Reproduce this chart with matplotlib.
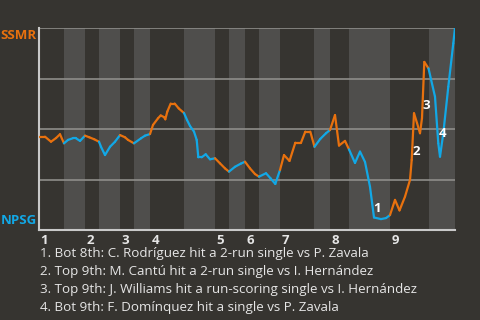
import matplotlib
matplotlib.use("Agg")
import matplotlib.pyplot as plt

# ---- data ----
# game progress (arbitrary units along the x axis) and SSMR win probability (%)
progress = [0, 6, 12, 17, 21, 25, 29, 33.7, 37, 41, 46, 50.3, 55.3, 60, 62, 66, 71, 76, 81,
            86, 89, 95, 102, 106, 111, 114, 119, 121.7, 125, 126.3, 128.3, 131.7, 135.7,
            139.7, 145, 148, 151, 155, 157.7, 159.3, 162.7, 166.7, 171, 176, 181, 186, 190,
            196, 202, 206, 211, 216, 220, 227, 231.5, 236.3, 241, 245, 250.5, 256.3, 262,
            266.3, 271.3, 275.5, 281.3, 287, 291, 296, 300, 306, 310, 316, 321, 326, 331,
            335, 342, 347, 351, 356, 360.5, 366, 371, 372.7, 375, 378, 381, 383, 385.3,
            389.5, 396, 399.3, 401, 404.3, 409.3, 414.3, 416]
ssmr_wp = [46.2, 46.2, 43.7, 45.5, 47.4, 42.9, 44.6, 45.4, 45.4, 44.1, 46.7, 45.9, 44.9, 43.7,
           41.2, 37.1, 41.2, 43.7, 47.0, 45.9, 44.6, 42.9, 45.4, 46.7, 47.5, 52.0, 55.3, 56.7,
           55.9, 54.8, 58.6, 62.6, 62.6, 60.2, 57.9, 54.5, 51.5, 48.7, 44.6, 36.0, 36.0, 37.5,
           35.0, 35.5, 33.0, 30.5, 28.9, 31.3, 32.9, 33.8, 30.5, 27.7, 26.4, 28.1, 25.6, 22.8,
           29.7, 37.1, 34.2, 43.2, 43.2, 48.7, 48.7, 41.2, 45.1, 47.9, 49.5, 56.9, 41.8, 44.1,
           39.9, 33.2, 38.8, 33.7, 21.4, 6.2, 5.4, 5.9, 7.4, 14.9, 9.7, 16.5, 24.8, 34.7, 57.8,
           53.0, 47.9, 55.4, 83.2, 80.0, 66.0, 42.9, 36.3, 47.9, 70.9, 92.4, 100.0]
# half-inning boundaries (start of each half inning, plus end)
half_starts = [0, 25, 46, 60, 81, 95, 111, 145, 176, 190, 206, 220, 241, 275, 291, 310, 351, 390, 416]
innings = ["1", "2", "3", "4", "5", "6", "7", "8", "9"]
event_points = [75, 83, 87, 93]
event_labels = ["1", "2", "3", "4"]
captions = [
    "1. Bot 8th: C. Rodríguez hit a 2-run single vs P. Zavala",
    "2. Top 9th: M. Cantú hit a 2-run single vs I. Hernández",
    "3. Top 9th: J. Williams hit a run-scoring single vs I. Hernández",
    "4. Bot 9th: F. Domínquez hit a single vs P. Zavala",
]
team_top, team_bottom = "SSMR", "NPSG"

# ---- style ----
BG = "#363430"
BAND = "#4f4e4c"
ORANGE = "#e8710e"
BLUE = "#12a8e6"
GRID = "#8e8d8a"
AXIS = "#c9c9c9"
TEXT = "#e6e6e6"
FONT = "Open Sans"

fig = plt.figure(figsize=(4.8, 3.2), dpi=100, facecolor=BG)
ax = fig.add_axes([39 / 480, 1 - 230 / 320, 416 / 480, 202 / 320])
ax.set_facecolor(BG)
ax.set_xlim(half_starts[0], half_starts[-1])
ax.set_ylim(0, 100)

# alternating half-inning bands (bottom halves lighter)
for i in range(len(half_starts) - 1):
    if i % 2 == 1:
        ax.axvspan(half_starts[i], half_starts[i + 1], color=BAND, lw=0, zorder=0)

for g in (25, 50, 75, 100):
    ax.axhline(g, color=GRID, lw=1.2, zorder=1)

# line, coloured by half inning
for i in range(len(progress) - 1):
    mid = (progress[i] + progress[i + 1]) / 2
    half = sum(1 for s in half_starts[1:-1] if mid >= s)
    col = ORANGE if half % 2 == 0 else BLUE
    ax.plot(progress[i:i + 2], ssmr_wp[i:i + 2], color=col, lw=1.6,
            solid_capstyle="round", zorder=3)

for sp in ("top", "right"):
    ax.spines[sp].set_visible(False)
for sp in ("left", "bottom"):
    ax.spines[sp].set_color(AXIS)
    ax.spines[sp].set_linewidth(1.5)
ax.set_xticks([])
ax.set_yticks([])

# inning labels
for k, lab in enumerate(innings):
    ax.annotate(lab, xy=(half_starts[2 * k], 0), xycoords=("data", "axes fraction"),
                xytext=(1, -3), textcoords="offset points", ha="left", va="top",
                color=TEXT, fontsize=9.5, fontweight="bold", family=FONT)

# team labels
ax.text(-0.006, 0.965, team_top, transform=ax.transAxes, ha="right", va="center",
        color=ORANGE, fontsize=9.5, fontweight="bold", family=FONT)
ax.text(-0.006, 0.045, team_bottom, transform=ax.transAxes, ha="right", va="center",
        color=BLUE, fontsize=9.5, fontweight="bold", family=FONT)

# event markers
offsets = [(2, 6.6), (3.6, 6), (3.4, 9.4), (-0.4, 0)]
for idx, lab, off in zip(event_points, event_labels, offsets):
    ax.annotate(lab, xy=(progress[idx], ssmr_wp[idx]), xytext=off, textcoords="offset points",
                ha="center", va="center", color="white", fontsize=9.5, fontweight="bold",
                family=FONT, zorder=5)

# captions
for j, cap in enumerate(captions):
    fig.text(40 / 480, 1 - (253 + 18.3 * j) / 320, cap, ha="left", va="center",
             color=TEXT, fontsize=9.6, family=FONT)

fig.savefig("out.png", dpi=100, facecolor=BG)
